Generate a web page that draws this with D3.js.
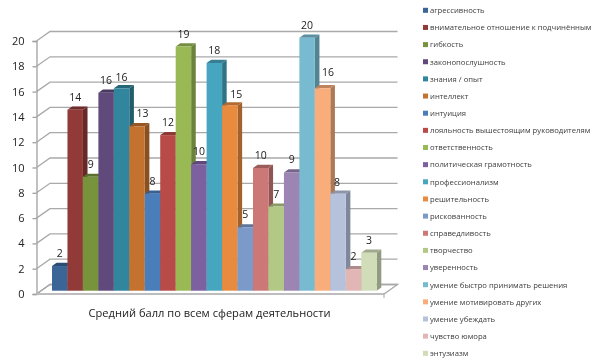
<!DOCTYPE html>
<html>
<head>
<meta charset="utf-8">
<script src="https://cdn.jsdelivr.net/npm/d3@7"></script>
<style>
  html, body { margin: 0; padding: 0; background: #fff; }
  svg { display: block; font-family: "Open Sans", sans-serif; filter: blur(0.3px); }
  .grid { stroke: #a9a9a9; stroke-width: 1.3; fill: none; }
  .axis-label { font-size: 10.5px; fill: #222; }
  .title-label { font-size: 11.1px; fill: #222; }
  .legend-label { font-size: 7.7px; fill: #3c3c3c; }
</style>
</head>
<body>
<svg width="596" height="364"></svg>
<script>
// Chart data
const categories = [
  "агрессивность", "внимательное отношение к подчинённым", "гибкость",
  "законопослушность", "знания / опыт", "интеллект", "интуиция",
  "лояльность вышестоящим руководителям", "ответственность",
  "политическая грамотность", "профессионализм", "решительность",
  "рискованность", "справедливость", "творчество", "уверенность",
  "умение быстро принимать решения", "умение мотивировать других",
  "умение убеждать", "чувство юмора", "энтузиазм"
];
const values = [1.95, 14.3, 9, 15.65, 16, 13, 7.67, 12.3, 19.3, 10, 18, 14.65,
  5, 9.7, 6.65, 9.35, 20, 16, 7.67, 1.7, 3];
const colors = [
  "#3a6596", "#923a38", "#77933c", "#604a7b", "#31859c", "#c4722f", "#4a7ebb",
  "#b84a47", "#98b954", "#7d60a0", "#46a5bf", "#e98b3f", "#7c9ac9", "#cc7876",
  "#b2c985", "#9c85b3", "#78bbd0", "#f9ad7a", "#b6c2dc", "#e3b6b6", "#d0ddb8"
];
const yTicks = [0, 2, 4, 6, 8, 10, 12, 14, 16, 18, 20];
const xTitle = "Средний балл по всем сферам деятельности";

const svg = d3.select("svg");

// Plot box and 3D offsets
const left = 36.5, right = 384, depthX = 13.5, depthY = -9.5;
const barDX = 4.6, barDY = -3.2, barLift = -3.3;

// Labels that were moved by hand in the original so they clear the next bar
const labelNudge = {
  "законопослушность": [0, 0],
  "знания / опыт": [0, 2],
  "интеллект": [5.5, 0],
  "решительность": [6.5, 2],
  "умение мотивировать других": [5.5, -3],
  "умение убеждать": [-1, 1.5]
};

const y = d3.scaleLinear().domain([0, 20]).range([294, 41]);
const x = d3.scaleBand().domain(categories).range([52, 376.7]);

// Floor
svg.append("polygon")
  .attr("class", "grid")
  .attr("fill", "#fff")
  .attr("points", [
    [left, y(0)], [right, y(0)], [right + depthX, y(0) + depthY], [left + depthX, y(0) + depthY]
  ].join(" "));

// Gridlines on the back and left walls
const grid = svg.append("g");
grid.selectAll("path")
  .data(yTicks)
  .enter()
  .append("path")
  .attr("class", "grid")
  .attr("d", d => `M${left},${y(d)}L${left + depthX},${y(d) + depthY}L${right + depthX},${y(d) + depthY}`);

// Y axis
const yAxis = svg.append("g")
  .attr("transform", `translate(${left},0)`)
  .call(d3.axisLeft(y).tickValues(yTicks).tickSize(4).tickPadding(8));
yAxis.selectAll("path, line").attr("stroke", "#a0a0a0").attr("stroke-width", 1.3);
yAxis.selectAll("text")
  .attr("class", "axis-label")
  .attr("style", "font-family:'Open Sans',sans-serif;font-size:11px");

// Front floor edge
svg.append("line")
  .attr("x1", left).attr("x2", right)
  .attr("y1", y(0)).attr("y2", y(0))
  .attr("stroke", "#bdbdbd").attr("stroke-width", 2);
svg.append("line")
  .attr("x1", right).attr("x2", right)
  .attr("y1", y(0)).attr("y2", y(0) + 4)
  .attr("stroke", "#a9a9a9").attr("stroke-width", 1);

// Bars, drawn left to right so each front face hides the previous side
const bars = svg.selectAll(".bar")
  .data(categories)
  .enter()
  .append("g")
  .attr("class", "bar");

const top3d = (d, i) => y(values[i]) + barLift;

bars.append("polygon")
  .attr("fill", (d, i) => d3.color(colors[i]).darker(1))
  .attr("points", (d, i) => {
    const r = x(d) + x.bandwidth(), t = top3d(d, i), b = y(0) + barLift;
    return [[r, t], [r + barDX, t + barDY], [r + barDX, b + barDY], [r, b]].join(" ");
  });

bars.append("polygon")
  .attr("fill", (d, i) => d3.color(colors[i]).darker(0.75))
  .attr("points", (d, i) => {
    const l = x(d), r = l + x.bandwidth(), t = top3d(d, i);
    return [[l, t], [r, t], [r + barDX, t + barDY], [l + barDX, t + barDY]].join(" ");
  });

bars.append("rect")
  .attr("x", d => x(d))
  .attr("y", (d, i) => top3d(d, i))
  .attr("width", x.bandwidth())
  .attr("height", (d, i) => y(0) + barLift - top3d(d, i))
  .attr("fill", (d, i) => colors[i]);

// Value labels
svg.append("g")
  .selectAll("text")
  .data(categories)
  .enter()
  .append("text")
  .attr("class", "axis-label")
  .attr("x", d => x(d) + x.bandwidth() / 2 + (labelNudge[d] ? labelNudge[d][0] : 0))
  .attr("y", (d, i) => top3d(d, i) - 9 + (labelNudge[d] ? labelNudge[d][1] : 0))
  .attr("text-anchor", "middle")
  .text((d, i) => d3.format(".0f")(values[i]));

// X axis title
svg.append("text")
  .attr("class", "title-label")
  .attr("x", 209.5)
  .attr("y", 317)
  .attr("text-anchor", "middle")
  .text(xTitle);

// Legend
const legendY = d3.scalePoint().domain(categories).range([10.3, 353.3]);
const legend = svg.selectAll(".legend")
  .data(categories)
  .enter()
  .append("g")
  .attr("class", "legend")
  .attr("transform", d => `translate(423,${legendY(d)})`);

legend.append("rect")
  .attr("y", -2.5)
  .attr("width", 5)
  .attr("height", 5)
  .attr("fill", (d, i) => colors[i]);

legend.append("text")
  .attr("class", "legend-label")
  .attr("x", 7)
  .attr("y", 2.8)
  .text(d => d);
</script>
</body>
</html>
